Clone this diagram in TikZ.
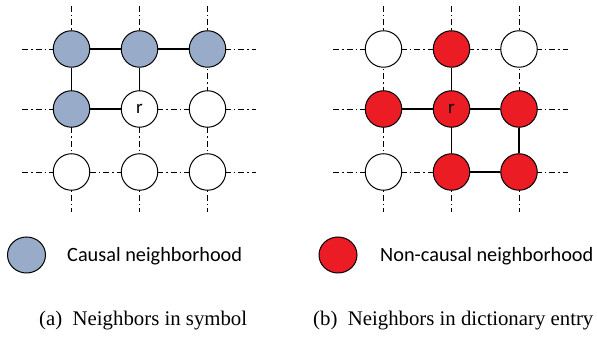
\documentclass[tikz,border=0pt]{standalone}
\usepackage{fontspec}
\usetikzlibrary{shapes.geometric}
\setmainfont{Liberation Serif}
\newfontfamily\labelfont{Carlito}
\definecolor{causalblue}{RGB}{152,172,202}
\definecolor{noncausalred}{RGB}{236,28,36}
\begin{document}
\begin{tikzpicture}[x=1pt,y=1pt,
  cell/.style={circle,draw=black,line width=1pt,minimum size=36.5pt,inner sep=0pt,fill=white,font=\labelfont\fontsize{19}{19}\selectfont},
  causal/.style={cell,fill=causalblue},
  noncausal/.style={cell,fill=noncausalred},
  key/.style={ellipse,draw=black,line width=1pt,minimum width=38pt,minimum height=36pt,inner sep=0pt},
  grid line/.style={line width=0.9pt,dash pattern=on 6pt off 3pt on 1.5pt off 3pt},
  link/.style={line width=1.1pt},
  legend text/.style={anchor=base west,inner sep=0pt,font=\labelfont\fontsize{20.3}{22}\selectfont},
  caption text/.style={anchor=base west,inner sep=0pt,font=\fontsize{20.8}{23}\selectfont}]
\useasboundingbox (0,0) rectangle (597,339);

% ---------- left lattice: causal neighbourhood ----------
\foreach \c/\x in {1/71.5,2/139.5,3/207.5}{
  \coordinate (aT\c) at (\x,333);
  \coordinate (aB\c) at (\x,127);
}
\foreach \r/\y in {1/290,2/230,3/167}{
  \coordinate (aL\r) at (22,\y);
  \coordinate (aR\r) at (256,\y);
}
\path (71.5,290) coordinate (pa11) (139.5,290) coordinate (pa12) (207.5,290) coordinate (pa13)
      (71.5,230) coordinate (pa21) (139.5,230) coordinate (pa22) (207.5,230) coordinate (pa23)
      (71.5,167) coordinate (pa31) (139.5,167) coordinate (pa32) (207.5,167) coordinate (pa33);

% dash-dot lattice lines
\foreach \r in {1,2,3}{
  \draw[grid line] (aL\r) -- (pa\r1) -- (pa\r2) -- (pa\r3) -- (aR\r);
}
\foreach \c in {1,2,3}{
  \draw[grid line] (aT\c) -- (pa1\c) -- (pa2\c) -- (pa3\c) -- (aB\c);
}

\node[causal] (a11) at (pa11) {};
\node[causal] (a12) at (pa12) {};
\node[causal] (a13) at (pa13) {};
\node[causal] (a21) at (pa21) {};
\node[cell]   (a22) at (pa22) {r};
\node[cell]   (a23) at (pa23) {};
\node[cell]   (a31) at (pa31) {};
\node[cell]   (a32) at (pa32) {};
\node[cell]   (a33) at (pa33) {};

% solid links of the causal neighbourhood
\draw[link] (a11) -- (a12);
\draw[link] (a12) -- (a13);
\draw[link] (a11) -- (a21);
\draw[link] (a12) -- (a22);
\draw[link] (a21) -- (a22);

% ---------- right lattice: non-causal neighbourhood ----------
\foreach \c/\x in {1/383.5,2/451.5,3/519}{
  \coordinate (bT\c) at (\x,333);
  \coordinate (bB\c) at (\x,127);
}
\foreach \r/\y in {1/290,2/230,3/167}{
  \coordinate (bL\r) at (333,\y);
  \coordinate (bR\r) at (568,\y);
}
\path (383.5,290) coordinate (pb11) (451.5,290) coordinate (pb12) (519,290) coordinate (pb13)
      (383.5,230) coordinate (pb21) (451.5,230) coordinate (pb22) (519,230) coordinate (pb23)
      (383.5,167) coordinate (pb31) (451.5,167) coordinate (pb32) (519,167) coordinate (pb33);

\foreach \r in {1,2,3}{
  \draw[grid line] (bL\r) -- (pb\r1) -- (pb\r2) -- (pb\r3) -- (bR\r);
}
\foreach \c in {1,2,3}{
  \draw[grid line] (bT\c) -- (pb1\c) -- (pb2\c) -- (pb3\c) -- (bB\c);
}

\node[cell]      (b11) at (pb11) {};
\node[noncausal] (b12) at (pb12) {};
\node[cell]      (b13) at (pb13) {};
\node[noncausal] (b21) at (pb21) {};
\node[noncausal] (b22) at (pb22) {r};
\node[noncausal] (b23) at (pb23) {};
\node[cell]      (b31) at (pb31) {};
\node[noncausal] (b32) at (pb32) {};
\node[noncausal] (b33) at (pb33) {};

\draw[link] (b12) -- (b22);
\draw[link] (b21) -- (b22);
\draw[link] (b22) -- (b23);
\draw[link] (b22) -- (b32);
\draw[link] (b23) -- (b33);
\draw[link] (b32) -- (b33);

% ---------- legend ----------
\node[key,fill=causalblue] (keya) at (26.5,84) {};
\node[legend text] (keyatext) at (67,77) {Causal neighborhood};
\node[key,fill=noncausalred] (keyb) at (338,84) {};
\node[legend text] (keybtext) at (380,77) {Non-causal neighborhood};

% ---------- captions ----------
\node[caption text] (capa) at (39,13) {(a)\enspace Neighbors in symbol};
\node[caption text] (capb) at (313,13) {(b)\enspace Neighbors in dictionary entry};
\end{tikzpicture}
\end{document}
